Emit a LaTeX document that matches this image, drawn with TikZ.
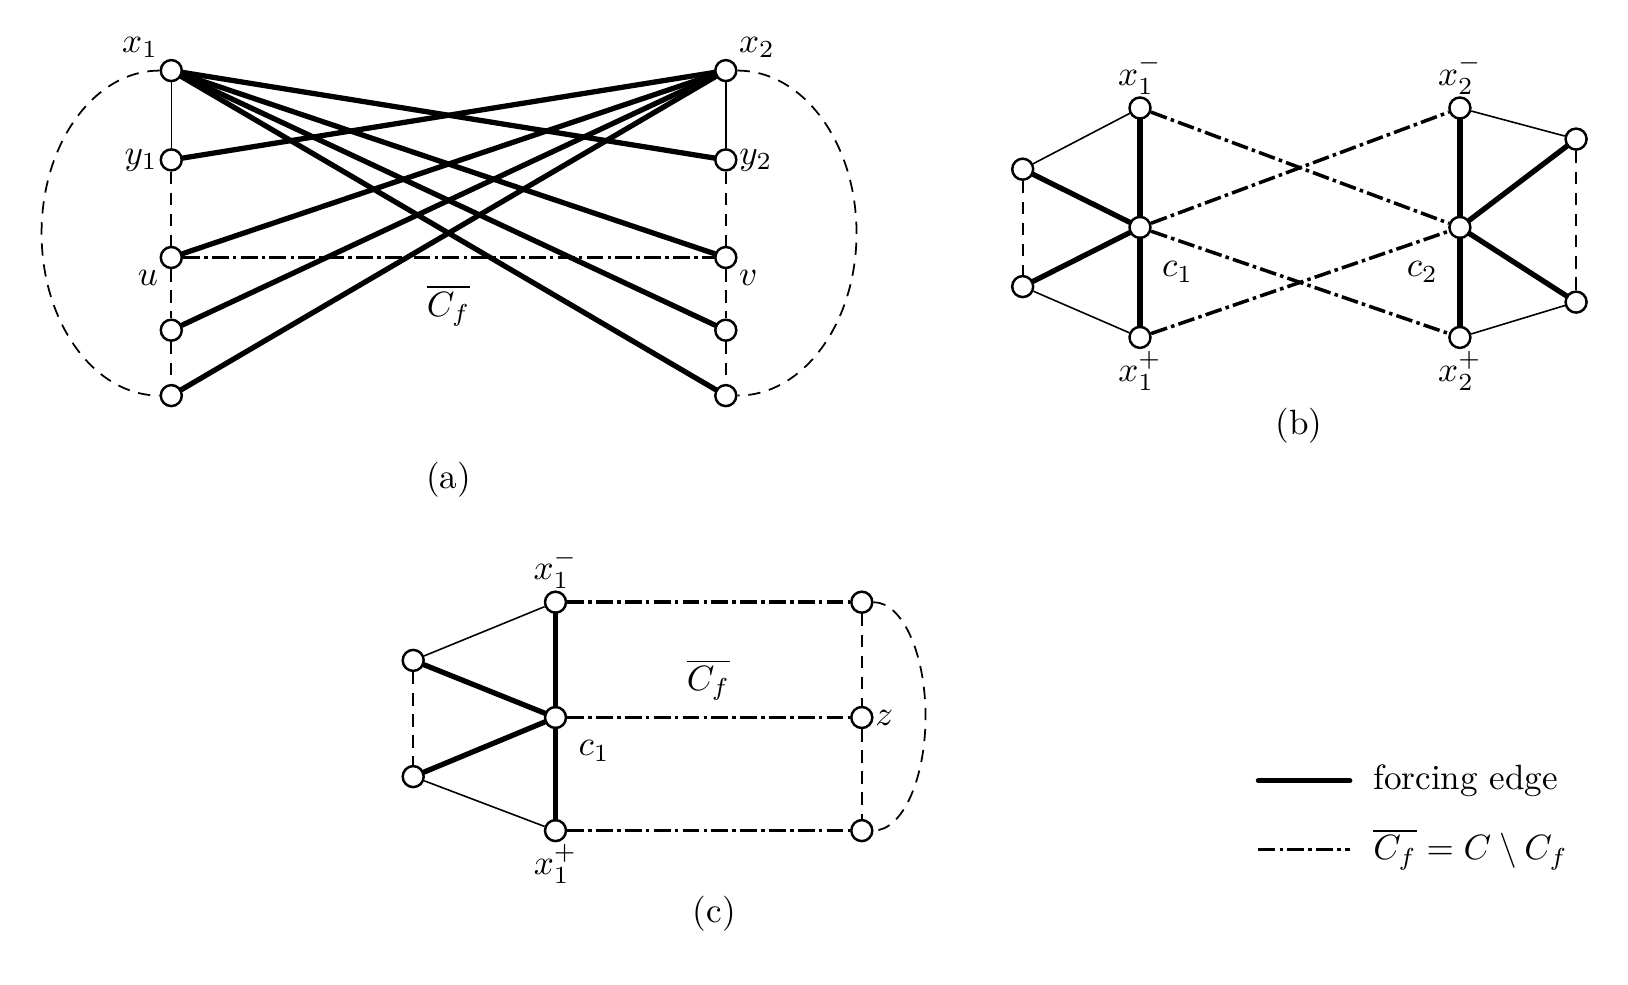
\documentclass[tikz,border=0pt]{standalone}
\begin{document}
\begin{tikzpicture}[label distance=-3pt,
	vtx/.style={circle, draw, fill=white, line width=0.7pt, minimum size=2.1mm, inner sep=0pt},
	forcing/.style={line width=1.5pt, line cap=round},
	thinedge/.style={line width=0.45pt},
	dashedge/.style={line width=0.5pt, dash pattern=on 3.5pt off 2.5pt},
	cbar/.style={line width=1pt, dash pattern=on 4.8pt off 1.2pt on 1pt off 1.2pt},
	]
	\useasboundingbox (0,0) rectangle (16.28,9.84);

	% (a)
	\begin{scope}[shift={(1.713,5.884)}]
		\node[vtx, label=above left:$x_1$] (a-x1) at (0,3.25) {};
		\node[vtx, label=left:$y_1$] (a-y1) at (0,2.357) {};
		\node[vtx, label=below left:$u$] (a-u) at (0,1.381) {};
		\node[vtx] (a-l4) at (0,0.654) {};
		\node[vtx] (a-l5) at (0,0) {};
		\node[vtx, label=above right:$x_2$] (a-x2) at (5.545,3.25) {};
		\node[vtx, label=right:$y_2$] (a-y2) at (5.545,2.357) {};
		\node[vtx, label=below right:$v$] (a-v) at (5.545,1.381) {};
		\node[vtx] (a-r4) at (5.545,0.654) {};
		\node[vtx] (a-r5) at (5.545,0) {};
		\draw[thinedge] (a-x1) -- (a-y1);
		\draw[thinedge] (a-x2) -- (a-y2);
		\draw[dashedge] (a-y1) -- (a-u) -- (a-l4) -- (a-l5);
		\draw[dashedge] (a-y2) -- (a-v) -- (a-r4) -- (a-r5);
		\draw[dashedge] (a-x1.west) arc[start angle=90, end angle=270, x radius=1.18, y radius=1.625];
		\draw[dashedge] (a-x2.east) arc[start angle=90, end angle=-90, x radius=1.19, y radius=1.625];
		\draw[cbar] (a-u) -- node[below=4pt] (a-cf) {$\overline{C_f}$} (a-v);
		\foreach \t in {a-y2,a-v,a-r4,a-r5}
			\draw[forcing] (a-x1) -- (\t);
		\foreach \t in {a-y1,a-u,a-l4,a-l5}
			\draw[forcing] (a-x2) -- (\t);
		\node (cap-a) at (2.772,-0.841) {(a)};
	\end{scope}

	% (b)
	\begin{scope}[shift={(11.40,7.566)}]
		\node[vtx, label=above:$x_1^-$] (b-x1m) at (0,1.194) {};
		\node[vtx, label={[label distance=5.5pt, xshift=-3.5pt]below right:$c_1$}] (b-c1) at (0,0) {};
		\node[vtx, label=below:$x_1^+$] (b-x1p) at (0,-1.10) {};
		\node[vtx] (b-lt) at (-1.173,0.582) {};
		\node[vtx] (b-lb) at (-1.173,-0.592) {};
		\node[vtx, label=above:$x_2^-$] (b-x2m) at (3.199,1.194) {};
		\node[vtx, label={[label distance=5.5pt, xshift=3.5pt]below left:$c_2$}] (b-c2) at (3.199,0) {};
		\node[vtx, label=below:$x_2^+$] (b-x2p) at (3.199,-1.10) {};
		\node[vtx] (b-rt) at (4.361,0.883) {};
		\node[vtx] (b-rb) at (4.361,-0.747) {};
		\draw[forcing] (b-x1m) -- (b-c1) -- (b-x1p);
		\draw[forcing] (b-x2m) -- (b-c2) -- (b-x2p);
		\draw[forcing] (b-lt) -- (b-c1) -- (b-lb);
		\draw[forcing] (b-rt) -- (b-c2) -- (b-rb);
		\draw[thinedge] (b-lt) -- (b-x1m);
		\draw[thinedge] (b-lb) -- (b-x1p);
		\draw[thinedge] (b-rt) -- (b-x2m);
		\draw[thinedge] (b-rb) -- (b-x2p);
		\draw[dashedge] (b-lt) -- (b-lb);
		\draw[dashedge] (b-rt) -- (b-rb);
		\draw[cbar] (b-x1m) -- (b-c2);
		\draw[cbar] (b-c1) -- (b-x2m);
		\draw[cbar] (b-c1) -- (b-x2p);
		\draw[cbar] (b-x1p) -- (b-c2);
		\node (cap-b) at (1.59,-1.983) {(b)};
	\end{scope}

	% (c)
	\begin{scope}[shift={(5.555,2.665)}]
		\node[vtx, label=above:$x_1^-$] (c-x1m) at (0,1.153) {};
		\node[vtx, label={[label distance=1pt]below right:$c_1$}] (c-c1) at (0,0) {};
		\node[vtx, label=below:$x_1^+$] (c-x1p) at (0,-1.131) {};
		\node[vtx] (c-lt) at (-1.423,0.571) {};
		\node[vtx] (c-lb) at (-1.423,-0.591) {};
		\node[vtx] (c-rt) at (3.063,1.153) {};
		\node[vtx, label=right:$z$] (c-z) at (3.063,0) {};
		\node[vtx] (c-rb) at (3.063,-1.131) {};
		\draw[forcing] (c-x1m) -- (c-c1) -- (c-x1p);
		\draw[forcing] (c-lt) -- (c-c1) -- (c-lb);
		\draw[thinedge] (c-lt) -- (c-x1m);
		\draw[thinedge] (c-lb) -- (c-x1p);
		\draw[dashedge] (c-lt) -- (c-lb);
		\draw[dashedge] (c-rt) -- (c-z) -- (c-rb);
		\draw[dashedge] (c-rt.east) arc[start angle=90, end angle=-90, x radius=0.52, y radius=1.142];
		\draw[cbar] (c-x1m) -- (c-rt);
		\draw[cbar] (c-c1) -- (c-z);
		\draw[cbar] (c-x1p) -- (c-rb);
		\node (c-cf) at (1.53,0.375) {$\overline{C_f}$};
		\node (cap-c) at (1.589,-1.962) {(c)};
	\end{scope}

	% legend
	\coordinate (lg-fa) at (12.584,2.032);
	\coordinate (lg-fb) at (13.498,2.032);
	\coordinate (lg-ca) at (12.584,1.347);
	\coordinate (lg-cb) at (13.498,1.347);
	\draw[forcing] (lg-fa) -- (lg-fb);
	\draw[cbar] (lg-ca) -- (lg-cb);
	\node[anchor=west] (lg-f) at (13.61,2.032) {forcing edge};
	\node[anchor=west] (lg-c) at (13.61,1.347) {$\overline{C_f} = C \setminus C_f$};
\end{tikzpicture}
\end{document}
